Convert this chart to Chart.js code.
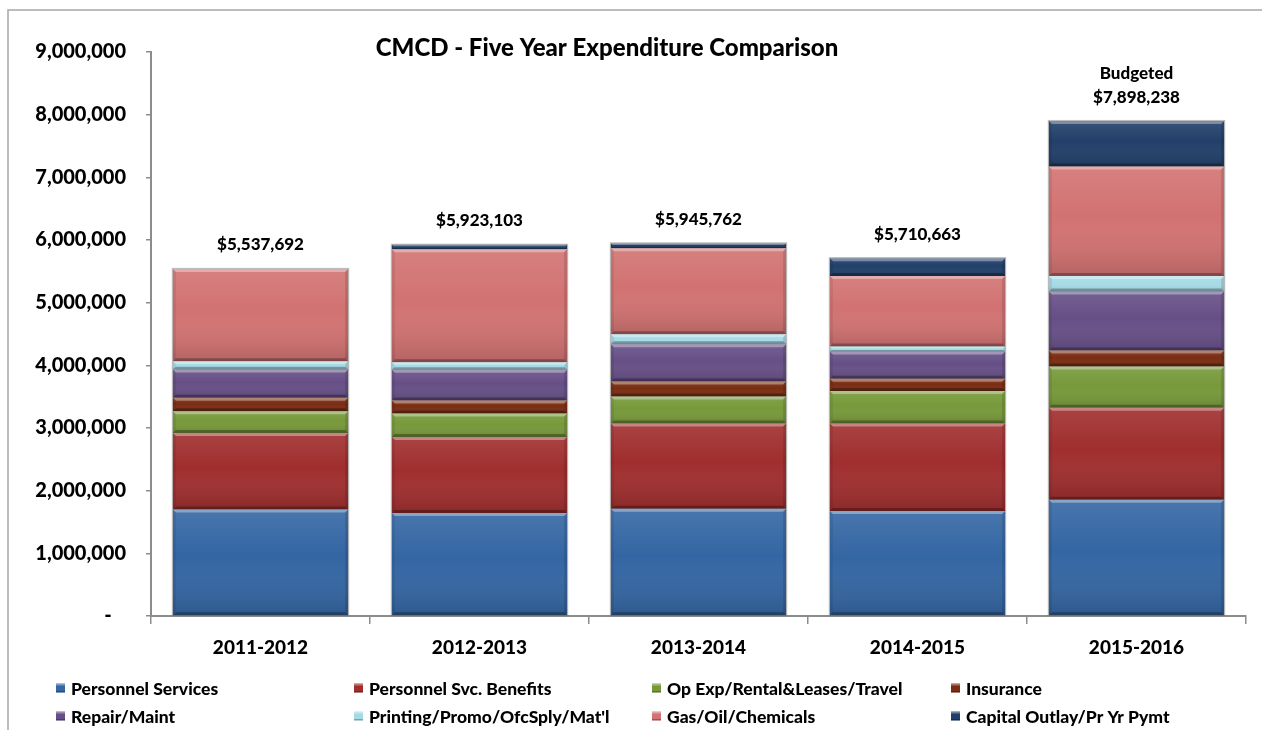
<!DOCTYPE html>
<html>
<head>
<meta charset="utf-8">
<title>CMCD - Five Year Expenditure Comparison</title>
<script src="https://cdn.jsdelivr.net/npm/chart.js@4.4.1/dist/chart.umd.min.js"></script>
<style>
  html, body { margin: 0; padding: 0; background: #ffffff; }
  #wrap { position: relative; width: 1262px; height: 730px; }
</style>
</head>
<body>
<div id="wrap"><canvas id="chart" width="1262" height="730"></canvas></div>
<script>
// Fiscal years
const years = ['2011-2012', '2012-2013', '2013-2014', '2014-2015', '2015-2016'];

// Expenditure by category (dollars)
const personnelServices = [1700000, 1645000, 1710000, 1675000, 1855000];
const personnelBenefits = [1222000, 1210000, 1362000, 1397000, 1470000];
const opExpRentalTravel = [345000, 377000, 431000, 519000, 656000];
const insurance         = [214000, 207000, 239000, 194000, 255000];
const repairMaint       = [451000, 489000, 596000, 435000, 941000];
const printingSupplies  = [133000, 123000, 160000, 80000, 250000];
const gasOilChemicals   = [1472692, 1802000, 1371000, 1127000, 1744000];
const capitalOutlay     = [0, 70103, 76762, 283663, 727238];

// Extra caption shown above a year's total
const totalNotes = ['', '', '', '', 'Budgeted'];

// Y axis tick values
const yTicks = [0, 1000000, 2000000, 3000000, 4000000, 5000000, 6000000, 7000000, 8000000, 9000000];

const seriesNames = [
  'Personnel Services', 'Personnel Svc. Benefits', 'Op Exp/Rental&Leases/Travel', 'Insurance',
  'Repair/Maint', "Printing/Promo/OfcSply/Mat'l", 'Gas/Oil/Chemicals', 'Capital Outlay/Pr Yr Pymt'
];
const seriesData = [
  personnelServices, personnelBenefits, opExpRentalTravel, insurance,
  repairMaint, printingSupplies, gasOilChemicals, capitalOutlay
];
const seriesColors = [
  '#3466a3', '#a02e2e', '#77993a', '#7a2d12',
  '#664f86', '#a6dbe6', '#d27272', '#213f69'
];

const FONT = 'Lato, "Open Sans", sans-serif';
const WEIGHT = '900';

// Beveled look for every bar segment
const bevelPlugin = {
  id: 'bevel',
  afterDatasetsDraw(chart) {
    const ctx = chart.ctx;
    const metas = chart.getSortedVisibleDatasetMetas();
    ctx.save();
    metas.forEach(meta => {
      meta.data.forEach(el => {
        const p = el.getProps(['x', 'y', 'base', 'width'], true);
        const h = Math.abs(p.base - p.y);
        if (h < 0.5) return;
        const l = p.x - p.width / 2, r = p.x + p.width / 2;
        const t = Math.min(p.y, p.base), b = t + h;
        const g = ctx.createLinearGradient(0, t, 0, b);
        g.addColorStop(0, 'rgba(255,255,255,0.10)');
        g.addColorStop(0.45, 'rgba(255,255,255,0)');
        g.addColorStop(1, 'rgba(0,0,0,0.14)');
        ctx.fillStyle = g;
        ctx.fillRect(l, t, r - l, h);
        const e = Math.min(3, h / 3);
        // top highlight
        ctx.fillStyle = 'rgba(255,255,255,0.35)';
        ctx.beginPath();
        ctx.moveTo(l, t); ctx.lineTo(r, t); ctx.lineTo(r - e, t + e); ctx.lineTo(l + e, t + e);
        ctx.closePath(); ctx.fill();
        // bottom shade
        ctx.fillStyle = 'rgba(0,0,0,0.28)';
        ctx.beginPath();
        ctx.moveTo(l, b); ctx.lineTo(r, b); ctx.lineTo(r - e, b - e); ctx.lineTo(l + e, b - e);
        ctx.closePath(); ctx.fill();
        // side shades
        ctx.fillStyle = 'rgba(0,0,0,0.12)';
        ctx.beginPath();
        ctx.moveTo(r, t); ctx.lineTo(r, b); ctx.lineTo(r - e, b - e); ctx.lineTo(r - e, t + e);
        ctx.closePath(); ctx.fill();
        ctx.fillStyle = 'rgba(0,0,0,0.08)';
        ctx.beginPath();
        ctx.moveTo(l, t); ctx.lineTo(l, b); ctx.lineTo(l + e, b - e); ctx.lineTo(l + e, t + e);
        ctx.closePath(); ctx.fill();
      });
    });
    // soft outline around each full stack
    const xs = chart.scales.x, ys = chart.scales.y;
    const first = metas[0];
    years.forEach((_, i) => {
      const total = seriesData.reduce((s, arr) => s + arr[i], 0);
      const w = first.data[i].getProps(['width'], true).width;
      const cx = xs.getPixelForValue(i);
      const top = ys.getPixelForValue(total);
      ctx.strokeStyle = 'rgba(110,110,110,0.45)';
      ctx.lineWidth = 1.2;
      ctx.strokeRect(cx - w / 2 - 0.5, top - 0.5, w + 1, ys.getPixelForValue(0) - top);
    });
    ctx.restore();
  }
};

// Totals above each stack
const totalsPlugin = {
  id: 'totals',
  afterDatasetsDraw(chart) {
    const ctx = chart.ctx;
    const xs = chart.scales.x, ys = chart.scales.y;
    ctx.save();
    ctx.fillStyle = '#000';
    ctx.font = WEIGHT + ' 17px ' + FONT;
    ctx.textAlign = 'center';
    ctx.textBaseline = 'middle';
    years.forEach((_, i) => {
      const total = seriesData.reduce((s, arr) => s + arr[i], 0);
      const x = xs.getPixelForValue(i);
      const y = ys.getPixelForValue(total) - 24;
      ctx.fillText('$' + total.toLocaleString('en-US'), x, y);
      if (totalNotes[i]) ctx.fillText(totalNotes[i], x, y - 24);
    });
    ctx.restore();
  }
};

// Frame, title and legend
const decorPlugin = {
  id: 'decor',
  beforeDraw(chart) {
    const ctx = chart.ctx;
    ctx.save();
    ctx.fillStyle = '#fff';
    ctx.fillRect(0, 0, chart.width, chart.height);
    ctx.strokeStyle = '#a6a6a6';
    ctx.lineWidth = 1.5;
    ctx.beginPath();
    ctx.moveTo(8, chart.height + 2);
    ctx.lineTo(8, 10);
    ctx.lineTo(chart.width + 2, 10);
    ctx.stroke();
    ctx.restore();
  },
  afterDraw(chart) {
    const ctx = chart.ctx;
    ctx.save();
    ctx.fillStyle = '#000';
    ctx.font = WEIGHT + ' 24px ' + FONT;
    ctx.textAlign = 'center';
    ctx.textBaseline = 'middle';
    ctx.fillText('CMCD - Five Year Expenditure Comparison', 607, 48);

    const colX = [56, 354, 652, 951];
    const rowY = [688, 716];
    ctx.font = WEIGHT + ' 17.5px ' + FONT;
    ctx.textAlign = 'left';
    seriesNames.forEach((name, k) => {
      const bx = colX[k % 4], by = rowY[Math.floor(k / 4)];
      const s = 9;
      ctx.fillStyle = seriesColors[k];
      ctx.fillRect(bx, by - s / 2, s, s);
      ctx.fillStyle = 'rgba(255,255,255,0.35)';
      ctx.fillRect(bx, by - s / 2, s, 2);
      ctx.fillStyle = 'rgba(0,0,0,0.25)';
      ctx.fillRect(bx, by + s / 2 - 1.5, s, 1.5);
      ctx.fillStyle = '#000';
      ctx.fillText(name, bx + 15, by + 1);
    });
    ctx.restore();
  }
};

function build() {
  const datasets = seriesNames.map((name, k) => ({
    label: name,
    data: seriesData[k],
    backgroundColor: seriesColors[k],
    borderWidth: 0,
    barPercentage: 0.8,
    categoryPercentage: 1.0
  }));

  new Chart(document.getElementById('chart'), {
    type: 'bar',
    data: { labels: years, datasets },
    options: {
      responsive: false,
      animation: false,
      layout: { padding: { left: 0, right: 16, top: 52, bottom: 0 } },
      plugins: {
        legend: { display: false },
        title: { display: false },
        tooltip: { enabled: false }
      },
      scales: {
        x: {
          stacked: true,
          grid: { offset: true, drawOnChartArea: false, tickLength: 8, color: '#8c8c8c', lineWidth: 1.5 },
          border: { color: '#8c8c8c', width: 2 },
          ticks: { color: '#000', font: { family: FONT, size: 19, weight: WEIGHT }, padding: 12 },
          afterFit(scale) { scale.height = 114; }
        },
        y: {
          stacked: true,
          min: 0,
          max: yTicks[yTicks.length - 1],
          afterBuildTicks(scale) { scale.ticks = yTicks.map(v => ({ value: v })); },
          grid: { drawOnChartArea: false, tickLength: 5, color: '#8c8c8c', lineWidth: 1.5 },
          border: { color: '#8c8c8c', width: 2 },
          ticks: {
            color: '#000',
            font: { family: FONT, size: 20, weight: WEIGHT },
            padding: 20,
            callback: v => v === 0 ? '-   ' : Number(v).toLocaleString('en-US')
          },
          afterFit(scale) { scale.width = 151; }
        }
      }
    },
    plugins: [decorPlugin, bevelPlugin, totalsPlugin]
  });
}

if (document.fonts && document.fonts.load) {
  Promise.all([
    document.fonts.load('900 19px Lato'),
    document.fonts.load('900 17px Lato'),
    document.fonts.load('900 24px Lato')
  ]).then(build, build);
} else {
  build();
}
</script>
</body>
</html>
